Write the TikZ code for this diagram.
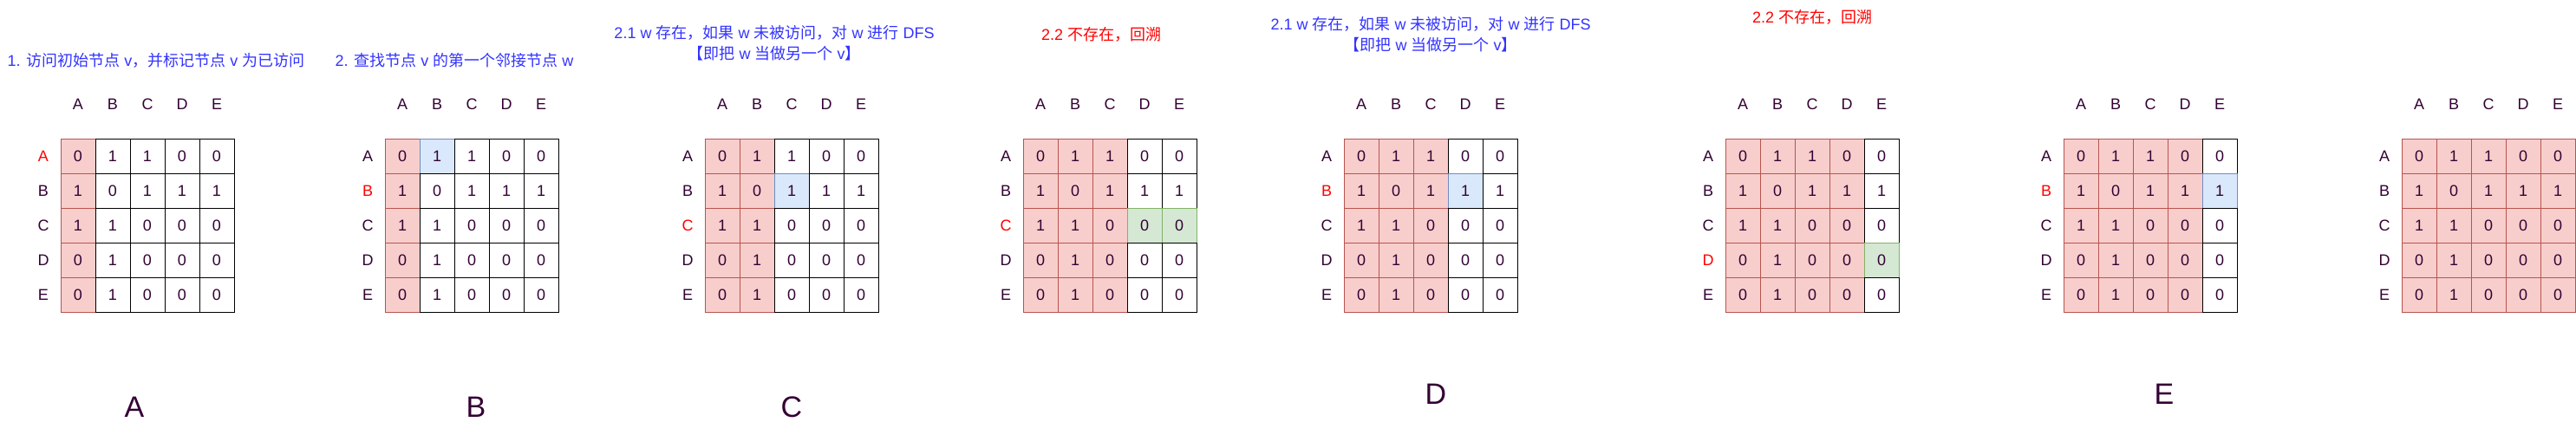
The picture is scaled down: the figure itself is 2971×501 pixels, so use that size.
\documentclass[tikz,border=0pt]{standalone}
\usepackage{fontspec}
\setmainfont{Liberation Sans}
\newfontfamily\cjk{Noto Sans CJK SC}
\usepackage{tikz}
\definecolor{mred}{HTML}{F8CECC}
\definecolor{mredline}{HTML}{B85450}
\definecolor{mblue}{HTML}{DAE8FC}
\definecolor{mblueline}{HTML}{6C8EBF}
\definecolor{mgreen}{HTML}{D5E8D4}
\definecolor{mgreenline}{HTML}{82B366}
\definecolor{mtext}{HTML}{330033}
\definecolor{ttlblue}{HTML}{3333FF}
\definecolor{ttlred}{HTML}{FF0000}

\tikzset{
  lbl/.style={text=mtext,font=\fontsize{18}{20}\selectfont,inner sep=0pt},
  cur/.style={lbl,text=ttlred},
  wcell/.style={draw=black,line width=1pt,fill=white,minimum size=40pt,
                inner sep=0pt,text=mtext,font=\fontsize{18}{20}\selectfont},
  vcell/.style={wcell,fill=mred,draw=mredline},
  hlblue/.style={fill=mblue,draw=mblueline},
  hlgreen/.style={fill=mgreen,draw=mgreenline},
  ttl/.style={font=\fontsize{18}{24}\selectfont,align=center,inner sep=0pt},
  biglbl/.style={text=mtext,font=\fontsize{34}{36}\selectfont,inner sep=0pt},
  % cells being looked at
  hl 2-1-2/.style={hlblue},
  hl 3-2-3/.style={hlblue},
  hl 4-3-4/.style={hlgreen},
  hl 4-3-5/.style={hlgreen},
  hl 5-2-4/.style={hlblue},
  hl 6-4-5/.style={hlgreen},
  hl 7-2-5/.style={hlblue}
}

% #1 step, #2 left edge, #3 visited columns, #4 current row
\newcommand{\adjmat}[4]{%
  \foreach \ltr [count=\ri] in {A,B,C,D,E} {
    \ifnum\ri=#4\relax\def\lst{cur}\else\def\lst{lbl}\fi
    \node[lbl] (m#1-col\ltr) at ({#2+40*\ri-20},120) {\ltr};
    \node[\lst] (m#1-row\ltr) at ({#2-20},{140+40*\ri}) {\ltr};
  }
  \foreach \vals [count=\ri] in {{0,1,1,0,0},{1,0,1,1,1},{1,1,0,0,0},{0,1,0,0,0},{0,1,0,0,0}} {
    \foreach \v [count=\ci] in \vals {
      \ifnum\ci>#3\relax\def\cst{wcell}\else\def\cst{vcell}\fi
      \node[\cst,hl #1-\ri-\ci/.try] (m#1-\ri\ci) at ({#2+40*\ci-20},{140+40*\ri}) {\v};
    }
  }
}

\begin{document}
\begin{tikzpicture}[x=1pt,y=-1pt]
  \useasboundingbox (0,0) rectangle (2971,501);

  % the eight steps
  \adjmat{1}{70}{1}{1}
  \adjmat{2}{444}{1}{2}
  \adjmat{3}{813}{2}{3}
  \adjmat{4}{1180}{3}{3}
  \adjmat{5}{1550}{3}{2}
  \adjmat{6}{1990}{4}{4}
  \adjmat{7}{2380}{4}{2}
  \adjmat{8}{2770}{5}{0}

  % titles
  \node[ttl,text=ttlblue] (t1) at (180,70)
    {1. {\cjk 访问初始节点} v{\cjk ，并标记节点} v {\cjk 为已访问}};
  \node[ttl,text=ttlblue] (t2) at (524,70)
    {2. {\cjk 查找节点} v {\cjk 的第一个邻接节点} w};
  \node[ttl,text=ttlblue] (t3) at (893,50)
    {2.1 w {\cjk 存在，如果} w {\cjk 未被访问，对} w {\cjk 进行} DFS\\
     {\cjk 【即把} w {\cjk 当做另一个} v{\cjk 】}};
  \node[ttl,text=ttlred] (t4) at (1270,40) {2.2 {\cjk 不存在，回溯}};
  \node[ttl,text=ttlblue] (t5) at (1650,40)
    {2.1 w {\cjk 存在，如果} w {\cjk 未被访问，对} w {\cjk 进行} DFS\\
     {\cjk 【即把} w {\cjk 当做另一个} v{\cjk 】}};
  \node[ttl,text=ttlred] (t6) at (2090,20) {2.2 {\cjk 不存在，回溯}};

  % big letters
  \node[biglbl] (lA) at (155,470) {A};
  \node[biglbl] (lB) at (549,470) {B};
  \node[biglbl] (lC) at (913,470) {C};
  \node[biglbl] (lD) at (1656,455) {D};
  \node[biglbl] (lE) at (2496,455) {E};

\end{tikzpicture}
\end{document}
